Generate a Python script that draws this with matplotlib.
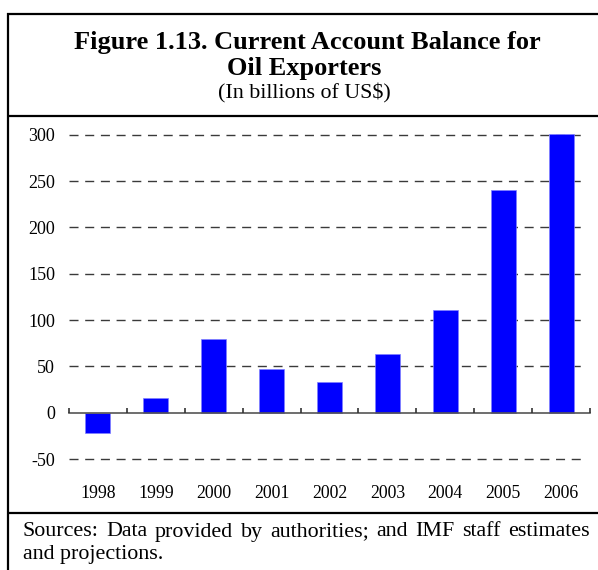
import matplotlib
matplotlib.use("Agg")
import matplotlib.pyplot as plt
from matplotlib.lines import Line2D

# Current account balance for oil exporters, billions of US$
years = ["1998", "1999", "2000", "2001", "2002", "2003", "2004", "2005", "2006"]
balance = [-22, 16, 80, 47, 33, 63, 111, 240, 301]
y_ticks = [-50, 0, 50, 100, 150, 200, 250, 300]

W, H = 598, 570
DPI = 100
SERIF = ["Liberation Serif", "DejaVu Serif"]

fig = plt.figure(figsize=(W / DPI, H / DPI), dpi=DPI)
fig.patch.set_facecolor("white")


def fx(px):
    return px / W


def fy(py):
    return 1 - py / H


# Frame: left rule, top rule, rule under the title and above the sources note
frame_kw = dict(color="black", lw=1.6, transform=fig.transFigure, solid_capstyle="butt")
fig.add_artist(Line2D([fx(8), fx(8)], [fy(13), fy(570)], **frame_kw))
for yy in (14, 115.5, 512.5):
    fig.add_artist(Line2D([fx(7.2), 1.0], [fy(yy), fy(yy)], **frame_kw))

# Title block
fig.text(fx(307), fy(43), "Figure 1.13. Current Account Balance for", ha="center", va="center",
         fontsize=19, fontweight="bold", family=SERIF)
fig.text(fx(304), fy(69), "Oil Exporters", ha="center", va="center",
         fontsize=19, fontweight="bold", family=SERIF)
fig.text(fx(304), fy(93.5), "(In billions of US$)", ha="center", va="center",
         fontsize=15.8, family=SERIF)

# Plot area
ax_left, ax_right = 69, 590
ax_top, ax_bottom = 134.9, 459.0
ax = fig.add_axes([fx(ax_left), fy(ax_bottom), (ax_right - ax_left) / W, (ax_bottom - ax_top) / H])
ax.set_xlim(-0.5, len(years) - 0.5)
ax.set_ylim(-50, 300)
for s in ax.spines.values():
    s.set_visible(False)

# Dashed reference lines
for v in y_ticks:
    if v == 0:
        continue
    ax.axhline(v, xmin=0, xmax=0.988, color="#3a3a3a", lw=1.0,
               linestyle=(0, (6.5, 4.8)), zorder=1, clip_on=False)

bars = ax.bar(range(len(years)), balance, width=0.43, color="#0000FF", edgecolor="#8080ff",
              linewidth=0.5, zorder=2)
for b in bars:
    b.set_clip_on(False)

# Zero line with upward ticks at category boundaries
ax.axhline(0, color="#555555", lw=1.2, zorder=3, clip_on=False)
bounds = [i - 0.5 for i in range(len(years) + 1)]
ax.vlines(bounds, 0, 5.6, color="#333333", lw=1.2, zorder=3, clip_on=False)

ax.set_xticks(range(len(years)))
ax.set_xticklabels(years, family=SERIF, fontsize=12.8)
ax.set_yticks(y_ticks)
ax.set_yticklabels([str(v) for v in y_ticks], family=SERIF, fontsize=13)
ax.tick_params(axis="x", length=0, pad=18.5)
ax.tick_params(axis="y", length=0, pad=10)

# Sources note, first line justified across the width
line1 = "Sources: Data provided by authorities; and IMF staff estimates".split()
x0, x1 = 23, 590
note_kw = dict(fontsize=15.8, family=SERIF, va="center", ha="left")
fig.canvas.draw()
renderer = fig.canvas.get_renderer()
words = []
total = 0.0
for w in line1:
    t = fig.text(0, 0, w, **note_kw)
    bb = t.get_window_extent(renderer)
    words.append((t, bb.width))
    total += bb.width
gap = (x1 - x0 - total) / (len(words) - 1)
xpos = x0
for t, wd in words:
    t.set_position((fx(xpos), fy(532)))
    xpos += wd + gap
fig.text(fx(x0), fy(554), "and projections.", **note_kw)

fig.savefig("out.png", dpi=DPI, facecolor="white")
